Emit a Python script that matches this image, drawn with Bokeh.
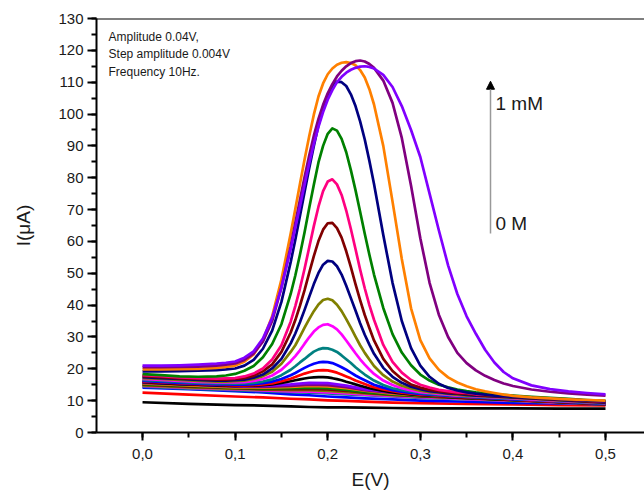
from bokeh.plotting import figure
from bokeh.models import SingleIntervalTicker, CustomJSTickFormatter, Label, Arrow, NormalHead, Span
from bokeh.embed import file_html
from bokeh.resources import INLINE

# Potential grids (V)
E_peak = [0.00, 0.02, 0.04, 0.06, 0.08, 0.09, 0.10, 0.11, 0.12, 0.13, 0.14, 0.15, 0.16,
          0.165, 0.17, 0.175, 0.18, 0.185, 0.19, 0.195, 0.20, 0.205, 0.21, 0.215, 0.22, 0.225,
          0.23, 0.235, 0.24, 0.245,
          0.25, 0.26, 0.27, 0.28, 0.29, 0.30, 0.31, 0.32, 0.33, 0.34, 0.35, 0.36, 0.37, 0.38,
          0.39, 0.40, 0.42, 0.44, 0.46, 0.48, 0.50]
E_low = [0.00, 0.05, 0.10, 0.13, 0.16, 0.18, 0.20, 0.22, 0.24, 0.27, 0.30, 0.35, 0.40, 0.45, 0.50]

# Currents (uA) of the low-concentration scans (on E_low)
black_l = [9.5, 9.0, 8.6, 8.45, 8.2, 8.0, 7.9, 7.9, 7.8, 7.7, 7.6, 7.6, 7.55, 7.5, 7.5]
red_l = [12.5, 11.9, 11.3, 11.0, 10.6, 10.4, 10.1, 9.9, 9.7, 9.4, 9.2, 8.95, 8.8, 8.6, 8.5]
blue_l = [14.1, 13.6, 13.0, 12.6, 12.0, 11.7, 11.3, 11.0, 10.7, 10.4, 10.0, 9.65, 9.3, 9.1, 8.9]
dcyan_l = [14.4, 13.8, 13.3, 13.0, 12.7, 12.5, 12.3, 12.0, 11.7, 11.3, 10.9, 10.4, 9.9, 9.3, 8.8]
magenta_l = [14.6, 14.0, 13.5, 13.2, 12.9, 12.8, 12.6, 12.3, 11.9, 11.5, 11.1, 10.5, 10.0, 9.4, 8.9]
olive_s = [14.8, 14.2, 13.7, 13.45, 13.3, 13.3, 13.1, 12.7, 12.3, 11.7, 11.3, 10.7, 10.1, 9.5, 8.9]
wine_s = [15.0, 14.4, 13.9, 13.65, 13.6, 13.7, 13.5, 13.1, 12.5, 11.9, 11.4, 10.8, 10.2, 9.6, 9.0]
green_s = [15.2, 14.6, 14.0, 13.85, 13.9, 14.1, 13.9, 13.4, 12.7, 12.0, 11.5, 10.85, 10.2, 9.6, 9.0]
orange_s = [15.4, 14.8, 14.2, 14.1, 14.3, 14.6, 14.5, 13.9, 13.1, 12.2, 11.7, 11.0, 10.4, 9.7, 9.1]
purple_s = [15.6, 15.0, 14.4, 14.35, 14.6, 15.0, 14.9, 14.2, 13.3, 12.4, 11.8, 11.05, 10.4, 9.8, 9.1]
violet_s = [15.8, 15.1, 14.6, 14.6, 15.1, 15.6, 15.5, 14.7, 13.6, 12.6, 11.9, 11.2, 10.5, 9.9, 9.2]

# Currents (uA) of the scans with a visible peak (on E_peak)
black_m = [15.8, 15.5, 15.2, 15.0, 14.8, 14.7, 14.65, 14.7, 14.7, 14.9, 15.1, 15.55, 16.1,
           16.4, 16.7, 16.95, 17.2, 17.3, 17.4, 17.4, 17.3, 17.05, 16.75, 16.4, 15.95, 15.55, 15.1, 14.7, 14.3, 13.9,
           13.6, 13.05, 12.6, 12.3, 12.0, 11.75, 11.55, 11.4, 11.2, 11.05, 10.9, 10.75, 10.6, 10.5, 10.35, 10.2,
           9.9, 9.65, 9.35, 9.1, 8.8]
red_m = [16.0, 15.7, 15.4, 15.2, 15.0, 14.9, 14.8, 14.8, 14.9, 15.1, 15.4, 16.1, 16.9,
         17.4, 18.0, 18.5, 18.9, 19.3, 19.5, 19.6, 19.5, 19.2, 18.8, 18.2, 17.6, 17.0, 16.3, 15.75, 15.2, 14.7,
         14.2, 13.5, 13.0, 12.5, 12.2, 11.9, 11.7, 11.5, 11.35, 11.2, 11.0, 10.9, 10.75, 10.6, 10.45, 10.3,
         10.0, 9.75, 9.5, 9.2, 8.9]
blue_m = [16.2, 15.9, 15.6, 15.3, 15.1, 15.1, 15.0, 15.0, 15.2, 15.5, 16.0, 16.8, 18.0,
          18.7, 19.5, 20.3, 21.0, 21.6, 22.0, 22.2, 22.1, 21.8, 21.2, 20.5, 19.7, 18.8, 17.9, 17.1, 16.4, 15.7,
          15.0, 14.1, 13.3, 12.8, 12.4, 12.1, 11.9, 11.7, 11.5, 11.3, 11.2, 11.0, 10.9, 10.7, 10.6, 10.4,
          10.2, 9.9, 9.6, 9.3, 9.0]
dcyan_m = [16.5, 16.2, 15.9, 15.6, 15.4, 15.4, 15.3, 15.4, 15.6, 16.0, 16.7, 18.0, 19.7,
           20.8, 22.0, 23.1, 24.3, 25.4, 26.1, 26.5, 26.4, 26.0, 25.3, 24.2, 23.0, 21.8, 20.5, 19.3, 18.2, 17.2,
           16.3, 14.9, 13.9, 13.3, 12.8, 12.4, 12.1, 11.9, 11.7, 11.5, 11.3, 11.2, 11.0, 10.9, 10.7, 10.6,
           10.3, 10.0, 9.7, 9.4, 9.1]
magenta_m = [16.8, 16.5, 16.2, 15.9, 15.7, 15.7, 15.7, 15.8, 16.2, 16.8, 17.9, 19.7, 22.4,
             24.0, 25.8, 27.9, 29.9, 31.7, 33.0, 33.8, 34.0, 33.4, 32.4, 30.8, 28.9, 26.9, 24.9, 23.0, 21.3, 19.8,
             18.4, 16.3, 14.9, 13.9, 13.2, 12.7, 12.4, 12.1, 11.9, 11.6, 11.5, 11.3, 11.2, 11.0, 10.9, 10.7,
             10.4, 10.1, 9.8, 9.5, 9.2]
olive_m = [17.1, 16.8, 16.5, 16.2, 16.0, 16.0, 16.1, 16.3, 16.8, 17.7, 19.1, 21.6, 25.3,
           27.4, 30.1, 32.9, 35.6, 38.1, 40.2, 41.6, 42.0, 41.5, 40.1, 38.1, 35.6, 32.9, 30.1, 27.4, 25.0, 22.9,
           20.9, 18.0, 16.0, 14.7, 13.8, 13.1, 12.7, 12.4, 12.1, 11.8, 11.6, 11.5, 11.3, 11.2, 11.0, 10.9,
           10.6, 10.2, 9.9, 9.6, 9.3]
navy_m = [17.4, 17.1, 16.8, 16.5, 16.3, 16.3, 16.4, 16.6, 17.2, 18.2, 20.1, 23.1, 28.0,
          31.1, 34.6, 38.5, 42.6, 46.6, 50.1, 52.7, 53.9, 53.7, 52.2, 49.6, 46.1, 42.2, 38.3, 34.3, 30.7, 27.6,
          24.7, 20.3, 17.5, 15.6, 14.4, 13.6, 13.0, 12.7, 12.3, 12.1, 11.8, 11.6, 11.5, 11.3, 11.2, 11.0,
          10.7, 10.4, 10.0, 9.7, 9.4]
wine_m = [17.7, 17.4, 17.0, 16.8, 16.6, 16.6, 16.8, 17.1, 17.8, 19.2, 21.4, 25.3, 31.4,
          35.3, 39.8, 44.7, 50.1, 55.4, 60.1, 63.7, 65.7, 65.8, 64.2, 61.2, 56.9, 51.9, 46.6, 41.6, 36.9, 32.8,
          28.9, 23.1, 19.3, 16.8, 15.1, 14.1, 13.4, 13.0, 12.6, 12.3, 12.1, 11.8, 11.6, 11.45, 11.3, 11.1,
          10.8, 10.5, 10.2, 9.8, 9.5]
pink_m = [18.0, 17.7, 17.3, 17.1, 16.9, 17.0, 17.1, 17.6, 18.5, 20.1, 22.9, 27.4, 34.8,
          39.7, 45.2, 51.4, 58.1, 64.8, 70.9, 75.8, 78.8, 79.5, 77.9, 74.6, 69.7, 63.9, 57.6, 51.2, 45.3, 40.0,
          35.4, 27.5, 22.2, 18.8, 16.5, 15.0, 14.1, 13.4, 13.0, 12.6, 12.4, 12.0, 11.9, 11.7, 11.5, 11.4,
          11.0, 10.7, 10.4, 10.0, 9.7]
green_m = [18.3, 18.0, 17.6, 17.5, 17.6, 17.9, 18.4, 19.4, 20.9, 23.6, 27.8, 34.0, 43.5,
           49.3, 55.8, 62.9, 70.5, 77.8, 84.8, 90.0, 93.8, 95.5, 94.8, 92.2, 88.0, 82.4, 76.1, 69.3, 62.4, 55.8,
           49.6, 39.1, 30.9, 25.1, 21.1, 18.2, 16.3, 15.0, 14.2, 13.5, 13.0, 12.6, 12.3, 12.0, 11.8, 11.6,
           11.2, 10.9, 10.6, 10.2, 9.9]
navy_h = [19.2, 19.2, 19.3, 19.4, 19.6, 19.8, 20.1, 21.0, 22.8, 26.3, 32.0, 41.0, 53.5,
          60.5, 68.0, 75.5, 83.0, 90.0, 96.5, 101.8, 106.0, 108.8, 110.2, 110.0, 108.8, 106.2, 102.5, 97.7, 92.0, 85.3,
          78.0, 62.0, 47.0, 35.0, 26.5, 21.0, 17.5, 15.3, 14.0, 13.2, 12.6, 12.2, 11.9, 11.6, 11.4, 11.2,
          10.9, 10.6, 10.3, 10.0, 9.8]
orange_h = [19.8, 19.8, 19.9, 20.0, 20.3, 20.6, 21.0, 22.2, 24.5, 29.0, 36.5, 48.0, 62.5,
            70.2, 78.0, 85.7, 93.0, 99.8, 105.5, 109.6, 112.5, 114.3, 115.5, 116.1, 116.3, 116.0, 115.3, 113.8, 111.5, 107.8,
            103.0, 90.0, 72.5, 54.5, 39.0, 29.0, 23.3, 19.7, 17.3, 15.7, 14.5, 13.6, 12.9, 12.4, 11.9, 11.5,
            11.0, 10.7, 10.4, 10.2, 10.0]
purple_h = [20.5, 20.5, 20.6, 20.7, 21.0, 21.3, 21.7, 22.8, 24.8, 28.5, 35.0, 45.5, 58.5,
            65.8, 73.0, 80.2, 87.0, 93.2, 98.5, 102.9, 106.5, 109.4, 111.8, 113.6, 115.0, 116.0, 116.6, 116.8, 116.5, 115.7,
            114.5, 110.5, 103.5, 92.5, 77.5, 61.0, 47.0, 37.0, 30.0, 25.0, 21.8, 19.5, 17.8, 16.5, 15.4, 14.6,
            13.5, 12.8, 12.3, 11.9, 11.6]
violet_h = [21.0, 21.0, 21.1, 21.3, 21.6, 21.9, 22.3, 23.5, 25.5, 29.5, 36.0, 45.5, 57.5,
            64.3, 71.0, 77.8, 84.5, 90.6, 96.0, 100.6, 104.5, 107.5, 110.0, 111.7, 113.0, 113.9, 114.5, 114.9, 115.0, 114.8,
            114.3, 112.3, 108.5, 102.5, 95.0, 86.5, 75.0, 63.5, 52.5, 43.5, 36.5, 31.0, 26.0, 22.0, 19.0, 17.0,
            14.8, 13.6, 12.9, 12.4, 12.0]

low_series = [
    (black_l, "#000000"), (red_l, "#FF0000"), (blue_l, "#0000FF"), (dcyan_l, "#008080"),
    (magenta_l, "#FF00FF"), (olive_s, "#808000"), (wine_s, "#800000"), (green_s, "#008000"),
    (orange_s, "#FF8000"), (purple_s, "#800080"), (violet_s, "#8000FF"),
]
peak_series = [
    (black_m, "#000000"), (red_m, "#FF0000"), (blue_m, "#0000FF"), (dcyan_m, "#008080"),
    (magenta_m, "#FF00FF"), (olive_m, "#808000"), (navy_m, "#000080"), (wine_m, "#800000"),
    (pink_m, "#FF0080"), (green_m, "#008000"), (navy_h, "#000080"), (orange_h, "#FF8000"),
    (purple_h, "#800080"), (violet_h, "#8000FF"),
]

info_lines = ["Amplitude 0.04V,", "Step amplitude 0.004V", "Frequency 10Hz."]
info_y = [124.3, 118.8, 113.2]
conc_labels = ["1 mM", "0 M"]
conc_y = [103.2, 65.6]

FONT = "Liberation Sans"

p = figure(width=644, height=492, x_range=(-0.0497, 0.5421), y_range=(0, 130),
           output_backend="svg", toolbar_location=None,
           min_border_left=96, min_border_right=0, min_border_top=18, min_border_bottom=60)
p.grid.visible = False
p.outline_line_color = None
p.background_fill_color = "white"

for ys, col in low_series:
    p.line(E_low, ys, line_color=col, line_width=2.7, line_join="round")
for ys, col in peak_series:
    p.line(E_peak, ys, line_color=col, line_width=2.7, line_join="round")

# axes
p.xaxis.ticker = SingleIntervalTicker(interval=0.1, num_minor_ticks=2)
p.yaxis.ticker = SingleIntervalTicker(interval=10, num_minor_ticks=2)
p.xaxis.formatter = CustomJSTickFormatter(code="return tick.toFixed(1).replace('.', ',');")
for ax in (p.xaxis[0], p.yaxis[0]):
    ax.axis_line_width = 2
    ax.axis_line_color = "black"
    ax.major_tick_line_width = 2
    ax.minor_tick_line_width = 2
    ax.major_tick_in = 0
    ax.minor_tick_in = 0
    ax.major_label_text_font = FONT
    ax.major_label_text_font_size = "15px"
    ax.major_label_text_color = "#1a1a1a"
    ax.axis_label_text_font = FONT
    ax.axis_label_text_font_style = "normal"
    ax.axis_label_text_font_size = "19px"
    ax.axis_label_text_color = "#1a1a1a"

p.xaxis.major_tick_out = 8
p.xaxis.minor_tick_out = 5
p.xaxis.major_label_standoff = 8
p.xaxis.axis_label = "E(V)"
p.xaxis.axis_label_standoff = 7

p.yaxis.major_tick_out = 9
p.yaxis.minor_tick_out = 5
p.yaxis.major_label_standoff = 4
p.yaxis.axis_label = "I(μA)"
p.yaxis.axis_label_standoff = 21

# top frame line
p.add_layout(Span(location=130, dimension="width", line_color="black", line_width=2))

for txt, yy in zip(info_lines, info_y):
    p.add_layout(Label(x=-0.0367, y=yy, text=txt, text_font=FONT, text_font_size="12px",
                       text_baseline="middle", text_color="#1a1a1a"))

for txt, yy in zip(conc_labels, conc_y):
    p.add_layout(Label(x=0.3812, y=yy, text=txt, text_font=FONT, text_font_size="19px",
                       text_baseline="middle", text_color="#1a1a1a"))

p.add_layout(Arrow(x_start=0.3758, y_start=62.5, x_end=0.3758, y_end=110.3,
                   line_color="#999999", line_width=1.5,
                   end=NormalHead(size=8, fill_color="black", line_color="black")))

open("out.html", "w").write(file_html(p, INLINE))
